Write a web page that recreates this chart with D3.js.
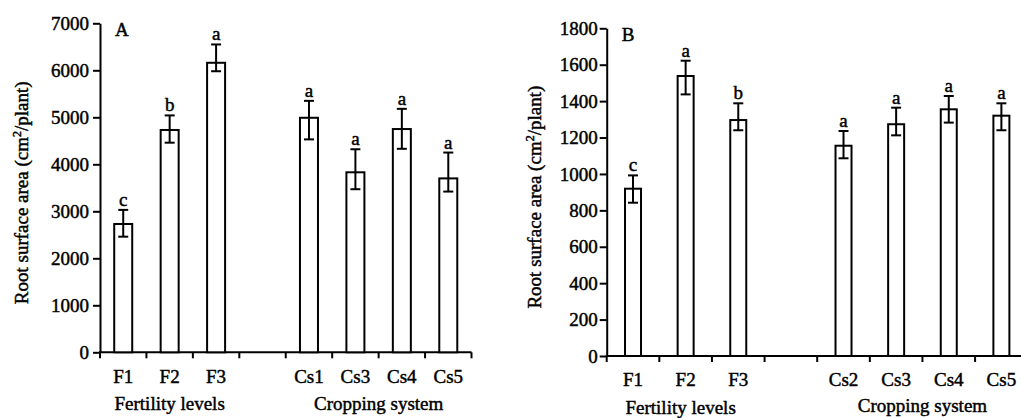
<!DOCTYPE html>
<html>
<head>
<meta charset="utf-8">
<script src="https://cdn.jsdelivr.net/npm/d3@7"></script>
<style>
	body { margin: 0; background: #fff; }
	svg text { font-family: "Liberation Serif", "Times New Roman", serif; fill: #000; stroke: #000; stroke-width: 0.45px; }
	.domain, .tick line { stroke: #000; stroke-width: 2px; }
</style>
</head>
<body>
<div class="visualisation"></div>
<script>
//----------------------------------------------------------------------------------------------------------------------------
//DATA
//----------------------------------------------------------------------------------------------------------------------------
var categoriesA = ["F1", "F2", "F3", "", "Cs1", "Cs3", "Cs4", "Cs5"];
var categoriesB = ["F1", "F2", "F3", "", "Cs2", "Cs3", "Cs4", "Cs5"];

var barsA     = ["F1", "F2", "F3", "Cs1", "Cs3", "Cs4", "Cs5"];
var valuesA   = [2730, 4730, 6160, 4990, 3830, 4750, 3700];
var errUpA    = [300, 310, 390, 360, 490, 430, 550];
var errDownA  = [270, 270, 180, 460, 360, 420, 280];
var lettersA  = ["c", "b", "a", "a", "a", "a", "a"];

var barsB     = ["F1", "F2", "F3", "Cs2", "Cs3", "Cs4", "Cs5"];
var valuesB   = [919, 1538, 1296, 1155, 1273, 1355, 1320];
var errUpB    = [73, 84, 92, 81, 91, 73, 68];
var errDownB  = [77, 101, 56, 69, 61, 73, 80];
var lettersB  = ["c", "a", "b", "a", "a", "a", "a"];

var yTicksA = [0, 1000, 2000, 3000, 4000, 5000, 6000, 7000];
var yTicksB = [0, 200, 400, 600, 800, 1000, 1200, 1400, 1600, 1800];

var groupTitles = ["Fertility levels", "Cropping system"];
var yTitle = "Root surface area (cm";

//----------------------------------------------------------------------------------------------------------------------------
//CANVAS
//----------------------------------------------------------------------------------------------------------------------------
var svg = d3.select(".visualisation").append("svg")
	.attr("width", 1021)
	.attr("height", 418);

function drawPanel(p){
	var x = d3.scaleBand().domain(p.cats).range([p.left, p.right]).padding(0);
	var y = d3.scaleLinear().domain([0, p.ticks[p.ticks.length - 1]]).range([p.bottom, p.top]);

	var g = svg.append("g");

	//y axis
	g.append("g")
		.attr("transform", "translate(" + p.left + ",0)")
		.call(d3.axisLeft(y).tickValues(p.ticks).tickFormat(d3.format("d")).tickSize(7).tickSizeOuter(0).tickPadding(p.tickPad))
		.call(function(a){ a.selectAll("text").style("font-size", "19px"); });

	//x axis line + boundary ticks
	g.append("line")
		.attr("x1", p.left - 1).attr("x2", p.right)
		.attr("y1", p.bottom).attr("y2", p.bottom)
		.attr("stroke", "#000").attr("stroke-width", 2);

	var bounds = p.cats.map(function(c){ return x(c); }).concat([x.range()[1]]);
	g.selectAll(".xtick").data(bounds).enter().append("line")
		.attr("x1", function(d){ return d; }).attr("x2", function(d){ return d; })
		.attr("y1", p.bottom).attr("y2", p.bottom + 6)
		.attr("stroke", "#000").attr("stroke-width", 2);

	g.selectAll(".xlab").data(p.cats.filter(function(c){ return c !== ""; })).enter().append("text")
		.attr("x", function(d){ return x(d) + x.bandwidth() / 2; })
		.attr("y", p.bottom + p.labDy)
		.attr("text-anchor", "middle")
		.style("font-size", "19px")
		.text(function(d){ return d; });

	//bars
	var rows = p.bars.map(function(c, i){
		return {cat: c, v: p.values[i], up: p.errUp[i], down: p.errDown[i], letter: p.letters[i]};
	});
	var bw = p.barW;

	g.selectAll(".bar").data(rows).enter().append("rect")
		.attr("x", function(d){ return x(d.cat) + x.bandwidth() / 2 - bw / 2; })
		.attr("y", function(d){ return y(d.v); })
		.attr("width", bw)
		.attr("height", function(d){ return y(0) - y(d.v); })
		.attr("fill", "#fff").attr("stroke", "#000").attr("stroke-width", 2);

	//error bars
	var err = g.selectAll(".err").data(rows).enter().append("g")
		.attr("transform", function(d){ return "translate(" + (x(d.cat) + x.bandwidth() / 2) + ",0)"; });
	err.append("line")
		.attr("y1", function(d){ return y(d.v + d.up); })
		.attr("y2", function(d){ return y(d.v - d.down); })
		.attr("stroke", "#000").attr("stroke-width", 2);
	err.append("line")
		.attr("x1", -5).attr("x2", 5)
		.attr("y1", function(d){ return y(d.v + d.up); })
		.attr("y2", function(d){ return y(d.v + d.up); })
		.attr("stroke", "#000").attr("stroke-width", 2);
	err.append("line")
		.attr("x1", -5).attr("x2", 5)
		.attr("y1", function(d){ return y(d.v - d.down); })
		.attr("y2", function(d){ return y(d.v - d.down); })
		.attr("stroke", "#000").attr("stroke-width", 2);
	err.append("text")
		.attr("y", function(d){ return y(d.v + d.up) - 4; })
		.attr("text-anchor", "middle")
		.style("font-size", "19px")
		.text(function(d){ return d.letter; });

	//panel letter
	g.append("text")
		.attr("x", p.left + 15).attr("y", p.top + 13)
		.style("font-size", "19px")
		.text(p.name);

	//group titles
	var fx = (x("F1") + x("F3") + x.bandwidth()) / 2;
	var lastC = p.cats[p.cats.length - 1];
	var cx = (x(p.cats[4]) + x(lastC) + x.bandwidth()) / 2;
	g.append("text").attr("x", fx + p.titleDx[0]).attr("y", p.titleY[0])
		.attr("text-anchor", "middle").style("font-size", "19px").text(groupTitles[0]);
	g.append("text").attr("x", cx + p.titleDx[1]).attr("y", p.titleY[1])
		.attr("text-anchor", "middle").style("font-size", "19px").text(groupTitles[1]);

	//y title
	var yt = g.append("text")
		.attr("transform", "translate(" + p.yTitleX + "," + ((p.top + p.bottom) / 2 + 5) + ") rotate(-90)")
		.attr("text-anchor", "middle")
		.style("font-size", "19px");
	yt.append("tspan").text(yTitle);
	yt.append("tspan").attr("dy", -7).style("font-size", "12px").text("2");
	yt.append("tspan").attr("dy", 7).text("/plant)");
}

drawPanel({name: "A", cats: categoriesA, bars: barsA, values: valuesA, errUp: errUpA, errDown: errDownA,
	letters: lettersA, ticks: yTicksA, left: 100, right: 471.5, top: 23.3, bottom: 352.3,
	barW: 18, tickPad: 4, labDy: 31, titleDx: [0, 0], titleY: [410, 410], yTitleX: 28});

drawPanel({name: "B", cats: categoriesB, bars: barsB, values: valuesB, errUp: errUpB, errDown: errDownB,
	letters: lettersB, ticks: yTicksB, left: 606.7, right: 1027.7, top: 28.3, bottom: 356,
	barW: 16, tickPad: 2, labDy: 30, titleDx: [-5, 0], titleY: [414, 412], yTitleX: 541});
</script>
</body>
</html>
